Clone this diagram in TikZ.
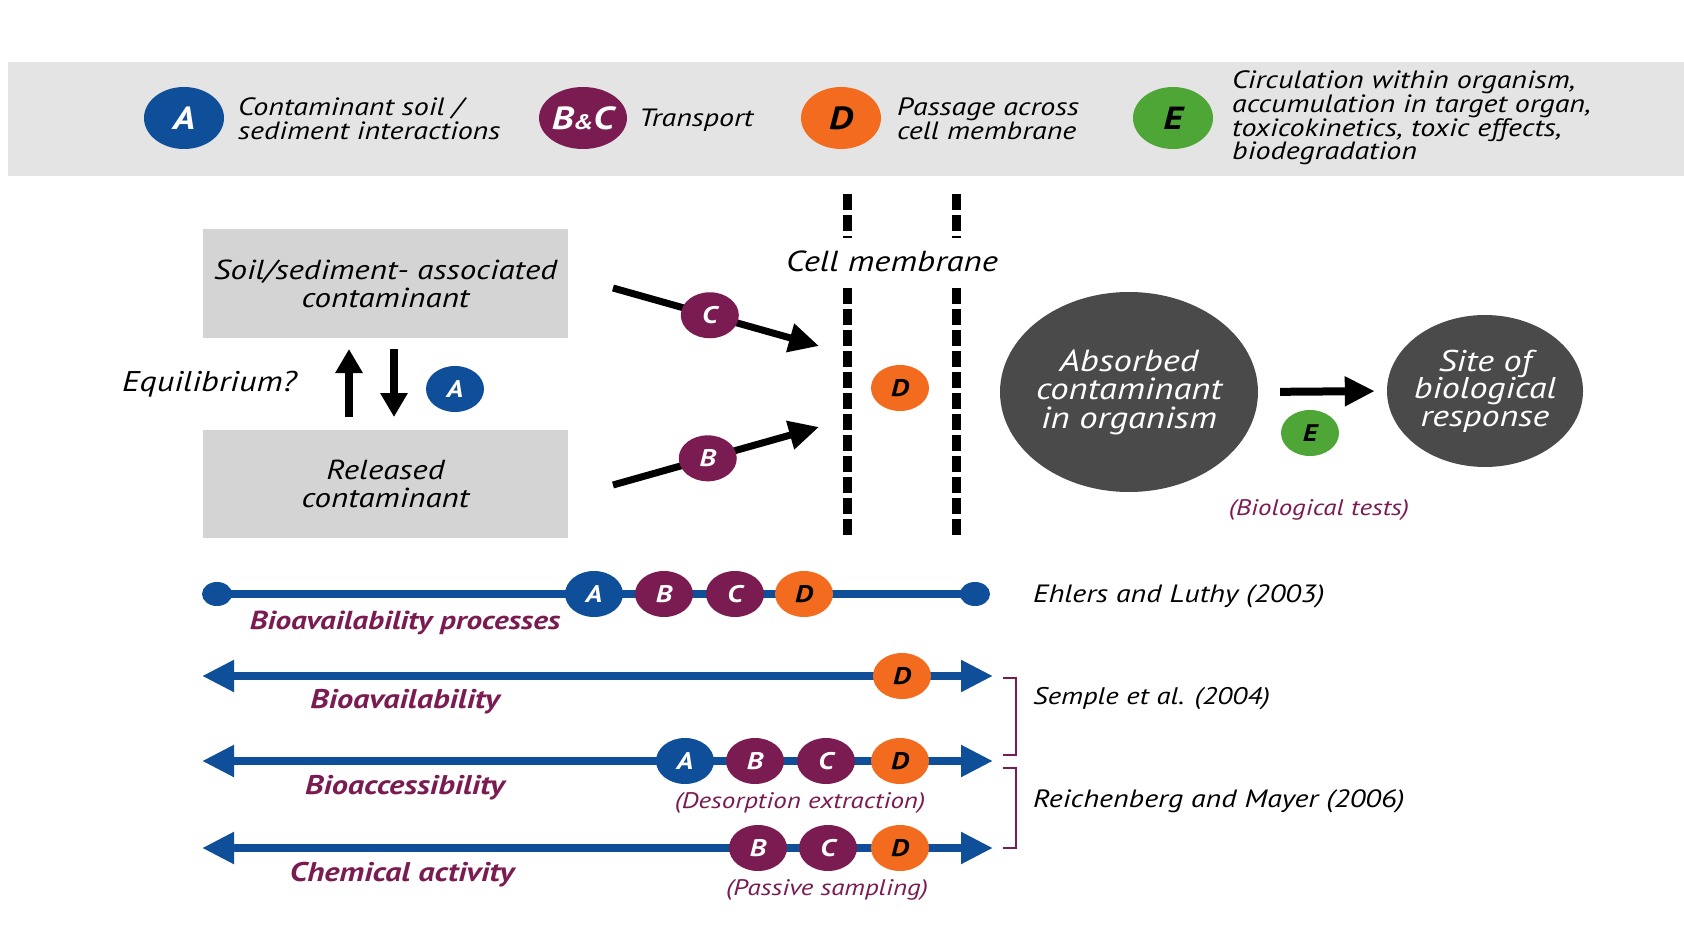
\documentclass[tikz,border=0pt]{standalone}
\usepackage{fontspec}
\setmainfont{PT Sans}[FakeStretch=1.2]
\usetikzlibrary{arrows.meta,shapes.geometric}
\definecolor{cA}{HTML}{0F4E98}
\definecolor{cBC}{HTML}{7A1B52}
\definecolor{cD}{HTML}{F26B1F}
\definecolor{cE}{HTML}{4DA636}
\definecolor{darkc}{HTML}{4A4A4A}
\definecolor{boxg}{HTML}{D4D4D4}
\definecolor{bang}{HTML}{E4E4E4}
\definecolor{lab}{HTML}{7A1B52}
\newcommand\myfs[2]{\fontsize{#1}{#2}\selectfont}
\begin{document}
\begin{tikzpicture}[x=1pt,y=-1pt,
  dot/.style={ellipse, inner sep=0pt, minimum width=58, minimum height=46, font=\myfs{24}{24}\bfseries\itshape},
  dA/.style={dot, fill=cA, text=white},
  dB/.style={dot, fill=cBC, text=white},
  dD/.style={dot, fill=cD, text=black},
  dE/.style={dot, fill=cE, text=black},
  big/.style={ellipse, inner sep=0pt, minimum width=80, minimum height=62, font=\myfs{32}{32}\bfseries\itshape},
  lgtext/.style={anchor=west, align=left, inner sep=0pt, font=\myfs{25}{23.8}\itshape},
  boxn/.style={rectangle, fill=boxg, minimum width=365, minimum height=108, inner sep=0pt, align=center, font=\myfs{27.5}{28}\itshape},
  organ/.style={ellipse, fill=darkc, text=white, inner xsep=-30pt, inner ysep=-25pt, align=center, font=\myfs{30.5}{28.5}\itshape},
  membrane/.style={line width=9, dash pattern=on 16 off 5},
  thickarrow/.style={line width=7, -{Triangle[length=30pt,width=28pt]}},
  eqarrow/.style={line width=8, -{Triangle[length=24pt,width=26pt]}},
  rowline/.style={line width=8, draw=cA},
  dbl/.style={rowline, {Triangle[length=32pt,width=30pt]}-{Triangle[length=32pt,width=30pt]}},
  enddot/.style={ellipse, fill=cA, inner sep=0pt, minimum width=30, minimum height=24},
  rowlab/.style={text=lab, inner sep=0pt, font=\myfs{27}{27}\bfseries\itshape},
  ref/.style={anchor=west, inner sep=0pt, font=\myfs{25}{25}\itshape},
  note/.style={text=lab, inner sep=0pt, font=\myfs{22.5}{22.5}\itshape},
  bracket/.style={draw=lab, line width=2.5}
]
\useasboundingbox (0,0) rectangle (1684,952);
\fill[white] (0,0) rectangle (1684,952);
% legend banner
\node[fill=bang, minimum width=1676, minimum height=114, inner sep=0pt, anchor=north west] (banner) at (8,62) {};
\node[big, fill=cA, text=white] (lA) at (184,118) {A};
\node[lgtext] (tA) at (238,119) {Contaminant soil /\\sediment interactions};
\node[big, fill=cBC, text=white] (lBC) at (583,118) {B{\myfs{21}{21}\&}C};
\node[lgtext] (tBC) at (639,120) {Transport};
\node[big, fill=cD, text=black] (lD) at (841,118) {D};
\node[lgtext] (tD) at (897,119) {Passage across\\cell membrane};
\node[big, fill=cE, text=black] (lE) at (1173,118) {E};
\node[lgtext] (tE) at (1232,118) {Circulation within organism,\\accumulation in target organ,\\toxicokinetics, toxic effects,\\biodegradation};
% boxes
\node[boxn] (soil) at (385.5,283.5) {Soil/sediment- associated\\contaminant};
\node[boxn] (rel) at (385.5,483.5) {Released\\contaminant};
\node[anchor=east, inner sep=0pt, font=\myfs{28.5}{28.5}\itshape] (eq) at (297,384) {Equilibrium?};
\coordinate (upS) at (349,417);
\coordinate (upE) at (349,349);
\coordinate (dnS) at (394,349);
\coordinate (dnE) at (394,417);
\draw[eqarrow] (upS) -- (upE);
\draw[eqarrow] (dnS) -- (dnE);
\node[dA] (eqA) at (455,389) {A};
% transport arrows
\coordinate (cS) at (613,288);
\coordinate (cE) at (819,346);
\coordinate (bS) at (613,485);
\coordinate (bE) at (819,427);
\draw[thickarrow] (cS) -- node[pos=0.47, dB] (mC) {C} (cE);
\draw[thickarrow] (bS) -- node[pos=0.46, dB] (mB) {B} (bE);
% membrane
\draw[membrane] (847,194) -- (847,238);
\draw[membrane] (956,194) -- (956,238);
\draw[membrane] (847,288) -- (847,536);
\draw[membrane] (956,288) -- (956,536);
\node[inner sep=0pt, font=\myfs{29}{29}\itshape] (cm) at (892,261) {Cell membrane};
\node[dD] (mD) at (900,388) {D};
% organism
\node[organ, minimum width=258, minimum height=200] (abs) at (1129,392) {Absorbed\\contaminant\\in organism};
\node[organ, minimum width=196, minimum height=152, font=\myfs{30}{27.5}\itshape] (site) at (1485,391) {Site of\\biological\\response};
\draw[line width=8, -{Triangle[length=30pt,width=28pt]}, shorten <=22pt, shorten >=12pt] (abs.east) -- (site.west);
\node[dE] (mE) at (1310,433) {E};
\node[note] (bt) at (1319,510) {(Biological tests)};
% row 1
\node[enddot] (r1a) at (217,594) {};
\node[enddot] (r1b) at (975,594) {};
\draw[rowline] (r1a.center) -- (r1b.center);
\node[dA] (r1A) at (594,594) {A};
\node[dB] (r1B) at (664,594) {B};
\node[dB] (r1C) at (735,594) {C};
\node[dD] (r1D) at (804,594) {D};
\node[rowlab, font=\myfs{26}{26}\bfseries\itshape] (l1) at (405,623) {Bioavailability processes};
\node[ref] (ref1) at (1033,596) {Ehlers and Luthy (2003)};
% row 2
\coordinate (r2a) at (202,676);
\coordinate (r2b) at (993,676);
\draw[dbl] (r2a) -- (r2b);
\node[dD] (r2D) at (902,676) {D};
\node[rowlab] (l2) at (405,702) {Bioavailability};
% row 3
\coordinate (r3a) at (202,761);
\coordinate (r3b) at (993,761);
\draw[dbl] (r3a) -- (r3b);
\node[dA] (r3A) at (685,761) {A};
\node[dB] (r3B) at (755,761) {B};
\node[dB] (r3C) at (826,761) {C};
\node[dD] (r3D) at (900,761) {D};
\node[rowlab] (l3) at (405,788) {Bioaccessibility};
\node[note] (n3) at (800,803) {(Desorption extraction)};
% row 4
\coordinate (r4a) at (202,848);
\coordinate (r4b) at (993,848);
\draw[dbl] (r4a) -- (r4b);
\node[dB] (r4B) at (758,848) {B};
\node[dB] (r4C) at (828,848) {C};
\node[dD] (r4D) at (900,848) {D};
\node[rowlab] (l4) at (402,875) {Chemical activity};
\node[note] (n4) at (827,890) {(Passive sampling)};
% brackets and references
\draw[bracket] (1003,678) -- (1016,678) -- (1016,755) -- (1003,755);
\draw[bracket] (1003,768) -- (1016,768) -- (1016,848) -- (1003,848);
\node[ref, font=\myfs{24}{24}\itshape] (ref2) at (1033,699) {Semple et al. (2004)};
\node[ref] (ref3) at (1033,801) {Reichenberg and Mayer (2006)};
\end{tikzpicture}
\end{document}
